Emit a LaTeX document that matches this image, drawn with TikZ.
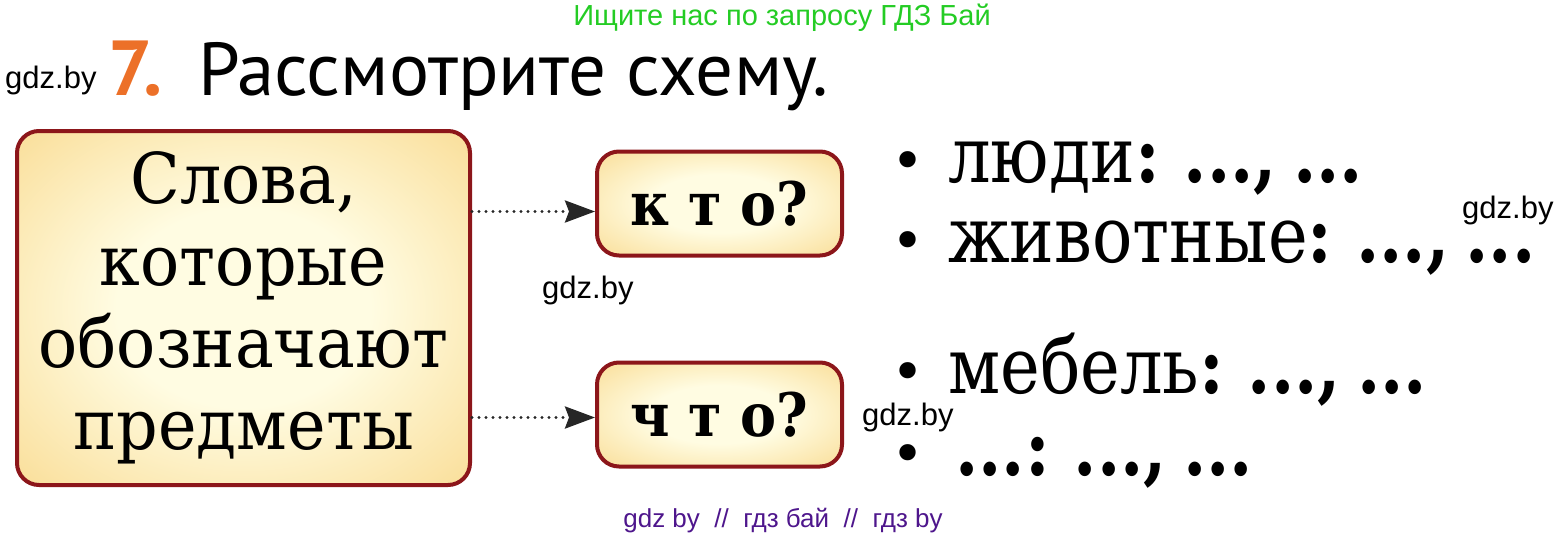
\documentclass[tikz,border=0pt]{standalone}
\usepackage{fontspec}
\setmainfont{DejaVu Serif}
\newfontfamily\boxfont[FakeStretch=0.93]{DejaVu Serif}
\newfontfamily\itemfont[FakeStretch=0.86]{DejaVu Serif}
\newfontfamily\qfont[FakeStretch=0.9]{DejaVu Serif}
\newfontfamily\wmfont{Liberation Sans}
\newfontfamily\ttlfont{PT Sans}
\usetikzlibrary{arrows.meta,positioning,shadings}
\definecolor{boxred}{RGB}{140,22,26}
\definecolor{boxin}{RGB}{255,252,226}
\definecolor{boxout}{RGB}{246,202,104}
\definecolor{numorange}{RGB}{236,112,40}
\definecolor{adgreen}{RGB}{36,204,36}
\definecolor{adviolet}{RGB}{78,22,140}
\colorlet{arrgray}{black!85}
\pgfdeclareradialshading{boxshade}{\pgfpoint{0bp}{0bp}}{color(0bp)=(boxin); color(14bp)=(boxin); color(50bp)=(boxout); color(75bp)=(boxout)}
\newcommand{\myrad}{22pt}
\newcommand{\tightsp}{\spaceskip 16pt plus 2pt\relax}
\tikzset{
    boxsty/.style={draw=boxred,line width=4pt,rounded corners=\myrad,shading=boxshade,align=center,inner sep=0pt},
    mainsty/.style={boxsty,minimum width=453pt,minimum height=354pt,font=\boxfont\fontsize{70}{82}\selectfont},
    qsty/.style={boxsty,minimum width=245pt,minimum height=104pt,font=\qfont\bfseries\fontsize{60}{60}\selectfont},
    linksty/.style={arrgray,line width=3.2pt,dash pattern=on 0pt off 7pt,line cap=round,-{Stealth[length=30pt,width=22pt,inset=4pt]}},
    itemsty/.style={anchor=base west,inner sep=0pt,font=\itemfont\fontsize{78}{78}\selectfont\tightsp},
    bulsty/.style={anchor=base west,inner sep=0pt,font=\fontsize{56}{56}\selectfont},
    ttlsty/.style={anchor=base west,inner sep=0pt,font=\ttlfont\fontsize{75}{75}\selectfont},
    wmsty/.style={anchor=base west,inner sep=0pt,font=\wmfont\fontsize{31}{31}\selectfont},
    adsty/.style={anchor=base,inner sep=0pt,text=adgreen,font=\wmfont\fontsize{29}{29}\selectfont},
    ftsty/.style={anchor=base,inner sep=0pt,text=adviolet,font=\wmfont\fontsize{26}{26}\selectfont},
}

\begin{document}
\begin{tikzpicture}[x=1pt,y=-1pt]
  \useasboundingbox (0,0) rectangle (1568,538);

  \node[adsty] (ad) at (782,25) {Ищите нас по запросу ГДЗ Бай};
  \node[wmsty] (wm1) at (5,88) {gdz.by};
  \node[ttlsty,text=numorange,font=\ttlfont\bfseries\fontsize{78}{78}\selectfont] (num) at (108,95) {7.};
  \node[ttlsty] (ttl) at (198,95) {Рассмотрите схему.};

  \node[mainsty] (words) at (243.5,308) {Слова,\\которые\\обозначают\\предметы};
  \node[qsty] (who) at (719.5,203.5) {к т о?};
  \node[qsty] (what) at (719.5,414.5) {ч т о?};

  \draw[linksty] ([yshift=-8pt]who.west -| words.east) -- ([yshift=-8pt]who.west);
  \draw[linksty] ([yshift=-3pt]what.west -| words.east) -- ([yshift=-3pt]what.west);

  \node[bulsty] (b1) at (891,180) {•};
  \node[itemsty] (l1) at (948,182) {люди\textbf{: ..., ...}};
  \node[bulsty] (b2) at (891,260) {•};
  \node[itemsty] (l2) at (948,262) {животные\textbf{: ..., ...}};
  \node[bulsty] (b3) at (891,391) {•};
  \node[itemsty] (l3) at (948,393) {мебель\textbf{: ..., ...}};
  \node[bulsty] (b4) at (891,473) {•};
  \node[itemsty] (l4) at (955,475) {\textbf{...: ..., ...}};

  \node[wmsty] (wm2) at (542,298) {gdz.by};
  \node[wmsty] (wm3) at (1462,218) {gdz.by};
  \node[wmsty] (wm4) at (862,425) {gdz.by};

  \node[ftsty] (ft) at (783,527) {gdz by \ // \ гдз бай \ // \ гдз by};
\end{tikzpicture}
\end{document}
